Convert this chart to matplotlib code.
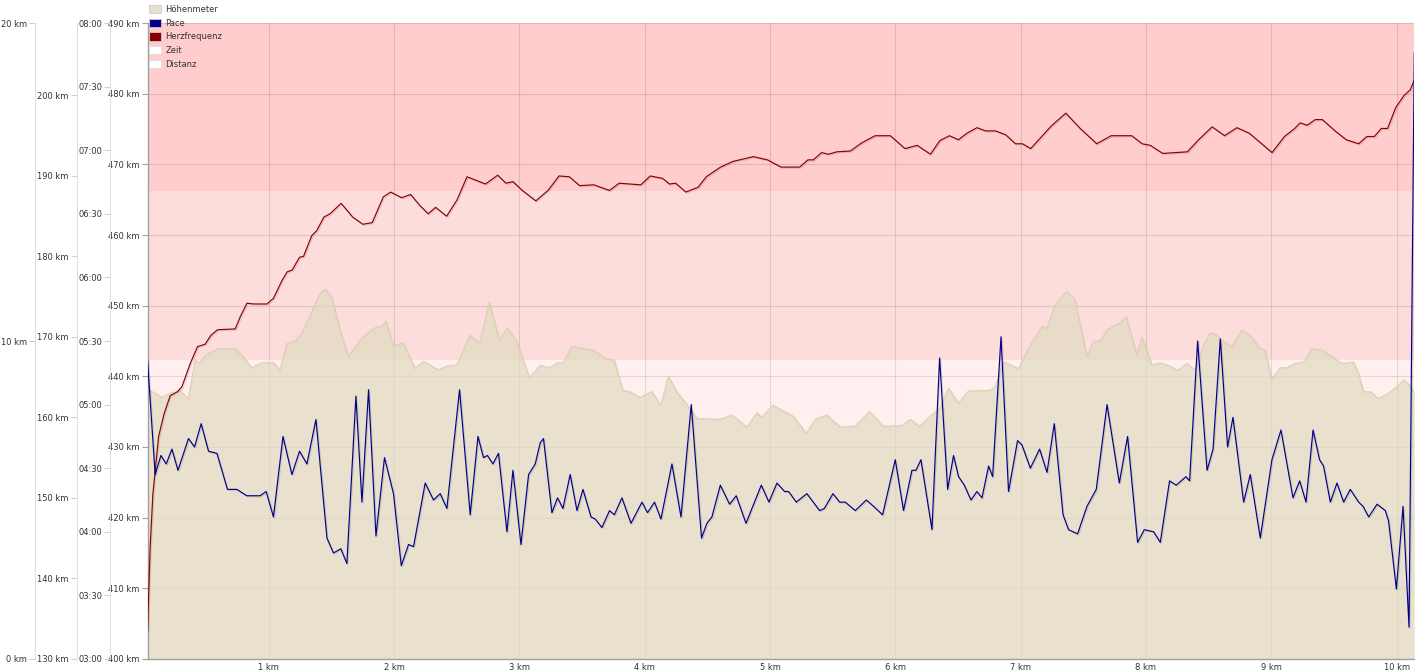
import matplotlib.pyplot as plt
import matplotlib.patheffects as pe
from matplotlib.patches import Patch, Rectangle
from matplotlib.ticker import FuncFormatter
from matplotlib.transforms import blended_transform_factory

# Data (distance in km)
pace_km = [0.032, 0.093, 0.139, 0.181, 0.227, 0.275, 0.359, 0.407, 0.460, 0.519,
           0.586, 0.670, 0.745, 0.825, 0.931, 0.979, 1.037, 1.113, 1.184, 1.245,
           1.304, 1.376, 1.464, 1.516, 1.575, 1.623, 1.695, 1.743, 1.796, 1.855,
           1.923, 1.995, 2.057, 2.115, 2.155, 2.248, 2.314, 2.368, 2.421, 2.522,
           2.607, 2.669, 2.713, 2.745, 2.788, 2.833, 2.900, 2.948, 3.012, 3.073,
           3.126, 3.166, 3.192, 3.259, 3.304, 3.347, 3.405, 3.459, 3.507, 3.571,
           3.605, 3.658, 3.719, 3.757, 3.818, 3.890, 3.978, 4.022, 4.078, 4.129,
           4.217, 4.289, 4.371, 4.453, 4.496, 4.536, 4.603, 4.677, 4.730, 4.808,
           4.930, 4.991, 5.055, 5.116, 5.148, 5.209, 5.294, 5.395, 5.433, 5.502,
           5.555, 5.600, 5.680, 5.768, 5.826, 5.898, 5.999, 6.065, 6.132, 6.164,
           6.204, 6.292, 6.353, 6.417, 6.464, 6.504, 6.550, 6.603, 6.651, 6.691,
           6.744, 6.776, 6.843, 6.903, 6.975, 7.010, 7.077, 7.151, 7.210, 7.268,
           7.338, 7.382, 7.454, 7.529, 7.603, 7.689, 7.787, 7.853, 7.933, 7.986,
           8.061, 8.114, 8.188, 8.241, 8.319, 8.348, 8.412, 8.487, 8.535, 8.593,
           8.651, 8.694, 8.779, 8.832, 8.912, 9.005, 9.077, 9.173, 9.226, 9.277,
           9.333, 9.385, 9.417, 9.471, 9.524, 9.577, 9.630, 9.697, 9.732, 9.777,
           9.844, 9.910, 9.936, 9.998, 10.051, 10.099, 10.141]
# pace in seconds per km
pace_s = [321, 267, 276, 272, 279, 269, 284, 280, 291, 278,
          277, 260, 260, 257, 257, 259, 247, 285, 267, 278,
          272, 293, 237, 230, 232, 225, 304, 254, 307, 238,
          275, 258, 224, 234, 233, 263, 255, 258, 251, 307,
          248, 285, 275, 276, 272, 277, 240, 269, 234, 267,
          272, 282, 284, 249, 256, 251, 267, 250, 260, 247,
          246, 242, 250, 248, 256, 244, 254, 249, 254, 246,
          272, 247, 300, 237, 244, 247, 262, 253, 257, 244,
          262, 254, 263, 259, 259, 254, 258, 250, 251, 258,
          254, 254, 250, 255, 252, 248, 274, 250, 269, 269,
          274, 241, 322, 260, 276, 266, 262, 255, 259, 256,
          271, 266, 332, 259, 283, 281, 270, 279, 268, 291,
          248, 241, 239, 252, 260, 300, 263, 285, 235, 241,
          240, 235, 264, 262, 266, 264, 330, 269, 279, 331,
          280, 294, 254, 267, 237, 274, 288, 256, 264, 254,
          288, 274, 271, 254, 263, 254, 260, 254, 252, 247,
          253, 250, 245, 213, 252, 195, 466]

hr_km = [0.032, 0.053, 0.075, 0.120, 0.165, 0.213, 0.271, 0.306, 0.373, 0.431,
         0.492, 0.538, 0.591, 0.732, 0.772, 0.825, 0.878, 0.985, 1.037, 1.105,
         1.147, 1.186, 1.245, 1.277, 1.343, 1.382, 1.440, 1.489, 1.577, 1.669,
         1.750, 1.825, 1.914, 1.972, 2.060, 2.132, 2.201, 2.272, 2.331, 2.419,
         2.501, 2.582, 2.729, 2.827, 2.892, 2.948, 3.023, 3.131, 3.228, 3.316,
         3.398, 3.480, 3.594, 3.718, 3.796, 3.969, 4.044, 4.142, 4.197, 4.246,
         4.328, 4.426, 4.491, 4.605, 4.703, 4.866, 4.980, 5.088, 5.236, 5.302,
         5.345, 5.411, 5.467, 5.533, 5.641, 5.730, 5.839, 5.960, 6.076, 6.174,
         6.280, 6.356, 6.431, 6.504, 6.570, 6.652, 6.718, 6.800, 6.882, 6.958,
         7.014, 7.080, 7.162, 7.244, 7.360, 7.475, 7.607, 7.722, 7.886, 7.969,
         8.035, 8.133, 8.331, 8.420, 8.528, 8.627, 8.726, 8.825, 8.923, 9.006,
         9.105, 9.187, 9.230, 9.286, 9.351, 9.407, 9.516, 9.598, 9.697, 9.763,
         9.822, 9.878, 9.928, 9.993, 10.059, 10.109, 10.141]
hr_bpm = [133.4, 143.9, 150.5, 157.6, 160.5, 162.7, 163.2, 163.8, 166.7, 168.8,
          169.1, 170.2, 170.9, 171.0, 172.5, 174.2, 174.1, 174.1, 174.8, 177.0,
          178.1, 178.3, 179.9, 180.0, 182.6, 183.2, 184.9, 185.3, 186.6, 184.9,
          184.0, 184.2, 187.4, 188.0, 187.3, 187.7, 186.4, 185.3, 186.1, 185.0,
          187.0, 189.9, 189.0, 190.1, 189.1, 189.3, 188.2, 186.9, 188.2, 190.0,
          189.9, 188.8, 188.9, 188.2, 189.1, 188.9, 190.0, 189.7, 189.0, 189.1,
          188.0, 188.6, 189.9, 191.1, 191.8, 192.4, 192.0, 191.1, 191.1, 192.0,
          192.0, 192.9, 192.7, 193.0, 193.1, 194.1, 195.0, 195.0, 193.4, 193.8,
          192.7, 194.4, 195.0, 194.5, 195.3, 196.0, 195.6, 195.6, 195.1, 194.0,
          194.0, 193.4, 194.8, 196.2, 197.8, 195.9, 194.0, 195.0, 195.0, 194.0,
          193.8, 192.8, 193.0, 194.5, 196.1, 195.0, 196.0, 195.3, 194.0, 192.9,
          194.9, 195.9, 196.6, 196.3, 197.0, 197.0, 195.5, 194.5, 194.0, 194.9,
          194.9, 195.9, 195.9, 198.5, 200.0, 200.7, 201.9]

ele_km = [0.032, 0.093, 0.147, 0.213, 0.293, 0.359, 0.413, 0.447, 0.506, 0.599,
          0.732, 0.798, 0.865, 0.945, 1.037, 1.091, 1.144, 1.211, 1.264, 1.330,
          1.410, 1.450, 1.504, 1.570, 1.636, 1.729, 1.809, 1.863, 1.903, 1.937,
          1.995, 2.075, 2.168, 2.235, 2.354, 2.416, 2.501, 2.607, 2.682, 2.761,
          2.841, 2.905, 2.980, 3.081, 3.166, 3.246, 3.304, 3.352, 3.419, 3.512,
          3.591, 3.685, 3.757, 3.826, 3.879, 3.964, 4.057, 4.129, 4.190, 4.257,
          4.337, 4.417, 4.603, 4.696, 4.816, 4.896, 4.936, 5.023, 5.188, 5.289,
          5.361, 5.454, 5.560, 5.680, 5.794, 5.906, 6.053, 6.119, 6.193, 6.292,
          6.358, 6.425, 6.504, 6.584, 6.757, 6.797, 6.864, 6.983, 7.077, 7.170,
          7.210, 7.276, 7.369, 7.436, 7.529, 7.582, 7.635, 7.689, 7.741, 7.808,
          7.843, 7.888, 7.928, 7.968, 8.008, 8.048, 8.114, 8.194, 8.252, 8.327,
          8.393, 8.460, 8.513, 8.567, 8.619, 8.686, 8.766, 8.832, 8.912, 8.952,
          9.005, 9.072, 9.125, 9.191, 9.258, 9.325, 9.405, 9.484, 9.564, 9.657,
          9.697, 9.737, 9.790, 9.856, 9.936, 10.003, 10.056, 10.109, 10.141]
ele_m = [438.1, 437.6, 437.0, 437.6, 437.9, 436.8, 442.3, 441.9, 443.1, 443.9,
         443.9, 442.7, 441.2, 441.9, 441.9, 440.9, 444.6, 445.0, 446.1, 448.6,
         451.7, 452.3, 451.2, 446.5, 442.8, 445.1, 446.4, 447.0, 447.0, 447.8,
         444.3, 444.7, 441.1, 442.1, 440.9, 441.4, 441.6, 445.8, 444.6, 450.5,
         445.1, 446.8, 444.9, 439.8, 441.5, 441.2, 441.9, 441.9, 444.2, 443.9,
         443.7, 442.5, 442.3, 438.0, 437.8, 437.0, 437.8, 435.9, 440.0, 437.8,
         436.0, 434.0, 433.9, 434.5, 432.8, 434.8, 434.2, 435.9, 434.3, 431.9,
         433.9, 434.5, 432.8, 432.9, 435.0, 432.9, 433.0, 433.9, 432.9, 434.5,
         435.5, 438.3, 436.2, 437.9, 438.0, 438.5, 442.0, 441.1, 444.4, 447.0,
         446.8, 450.1, 452.0, 450.8, 442.8, 444.9, 445.0, 446.5, 447.1, 447.7,
         448.4, 445.6, 443.0, 445.5, 443.7, 441.6, 441.9, 441.4, 440.8, 441.8,
         440.9, 444.4, 446.1, 445.8, 444.9, 444.2, 446.5, 445.8, 443.9, 443.7,
         439.5, 441.2, 441.2, 441.8, 442.0, 443.9, 443.7, 442.8, 441.8, 442.0,
         440.4, 437.8, 437.8, 436.8, 437.6, 438.5, 439.5, 438.6, 437.8]

# heart-rate zones (max 209 bpm -> 80 % / 90 %)
hr_max = 209
zone_edges = [130, 0.8 * hr_max, 0.9 * hr_max, hr_max]
zone_colors = ['#fff0ef', '#fddcdc', '#ffcdcd']

km_ticks = list(range(1, 11))
ele_ticks = list(range(400, 491, 10))
hr_ticks = list(range(130, 201, 10))
pace_ticks = list(range(180, 481, 30))
dist_ticks = [0, 10, 20]

label_col = '#333333'

fig = plt.figure(figsize=(14.28, 6.71), dpi=100)
ax = fig.add_axes([0.1033, 0.0179, 0.8871, 0.9478])
ax.set_xlim(0.032, 10.141)
ax.set_ylim(400, 490)

ax_hr = ax.twinx()
ax_pace = ax.twinx()
ax_dist = ax.twinx()

# background zones drawn on the host axes, in heart-rate units
band_tf = blended_transform_factory(ax.transAxes, ax_hr.transData)
for lo, hi, c in zip(zone_edges[:-1], zone_edges[1:], zone_colors):
    ax.add_patch(Rectangle((0, lo), 1, hi - lo, transform=band_tf,
                           facecolor=c, lw=0, zorder=0))

ax.set_axisbelow(True)
ax.grid(True, color='#000000', alpha=0.11, lw=0.8)

ax.fill_between(ele_km, 400, ele_m, color='#e0dbc0', alpha=0.7, lw=0, zorder=1)
ax.plot(ele_km, ele_m, color='#d9ceb4', lw=1.2, alpha=0.8, zorder=1.1,
        solid_joinstyle='round')

shadow = [pe.SimpleLineShadow(offset=(0.8, -0.8), alpha=0.12), pe.Normal()]
ax_hr.plot(hr_km, hr_bpm, color='#8b0000', lw=0.85, path_effects=shadow,
           solid_joinstyle='round')
ax_pace.plot(pace_km, pace_s, color='#00008b', lw=0.85, path_effects=shadow,
             solid_joinstyle='round')

ax_hr.set_ylim(130, hr_max)
ax_pace.set_ylim(180, 480)
ax_dist.set_ylim(0, 20)

# host axis
ax.set_xticks(km_ticks)
ax.set_xticklabels([f'{k} km' for k in km_ticks])
ax.set_yticks(ele_ticks)
ax.set_yticklabels([f'{v} km' for v in ele_ticks])
ax.tick_params(axis='x', length=0, pad=3, labelsize=6, labelcolor=label_col)
ax.tick_params(axis='y', length=4, width=0.8, color='#a0a0a0', pad=2,
               labelsize=6, labelcolor=label_col)
for s in ['top', 'right']:
    ax.spines[s].set_visible(False)
for s in ['left', 'bottom']:
    ax.spines[s].set_color('#a0a0a0')
    ax.spines[s].set_linewidth(1.0)


def side_axis(a, pos):
    for s in ['top', 'right', 'bottom']:
        a.spines[s].set_visible(False)
    a.spines['left'].set_visible(True)
    a.spines['left'].set_position(('axes', pos))
    a.spines['left'].set_color('#e0e0e0')
    a.yaxis.set_ticks_position('left')
    a.yaxis.set_label_position('left')
    a.tick_params(axis='y', length=4, width=0.8, color='#d0d0d0', pad=2,
                  labelsize=6, labelcolor=label_col)


side_axis(ax_pace, -0.0293)
side_axis(ax_hr, -0.0557)
side_axis(ax_dist, -0.0886)

ax_hr.set_yticks(hr_ticks)
ax_hr.set_yticklabels([f'{v} km' for v in hr_ticks])
ax_pace.set_yticks(pace_ticks)
ax_pace.yaxis.set_major_formatter(
    FuncFormatter(lambda v, p: f'{int(v) // 60:02d}:{int(v) % 60:02d}'))
ax_dist.set_yticks(dist_ticks)
ax_dist.set_yticklabels([f'{v} km' for v in dist_ticks])

handles = [Patch(facecolor='#e8e0cc', edgecolor='#cccccc', lw=0.6, label='Höhenmeter'),
           Patch(facecolor='#00008b', edgecolor='#cccccc', lw=0.6, label='Pace'),
           Patch(facecolor='#8b0000', edgecolor='#cccccc', lw=0.6, label='Herzfrequenz'),
           Patch(facecolor='white', edgecolor='#dddddd', lw=0.6, label='Zeit'),
           Patch(facecolor='white', edgecolor='#dddddd', lw=0.6, label='Distanz')]
leg = fig.legend(handles=handles, loc='upper left', bbox_to_anchor=(0.1043, 0.9925),
                 frameon=False, fontsize=6, handlelength=1.5, handleheight=1.15,
                 handletextpad=0.45, labelspacing=0.56, borderaxespad=0, borderpad=0)
for t in leg.get_texts():
    t.set_color(label_col)

fig.savefig('out.png', dpi=100)
